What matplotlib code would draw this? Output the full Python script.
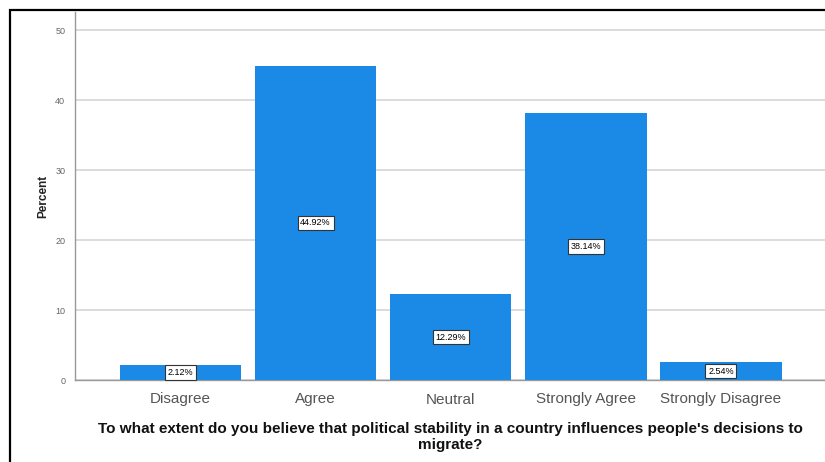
import matplotlib
matplotlib.use("Agg")
import matplotlib.pyplot as plt
from matplotlib.patches import Rectangle

categories = ["Disagree", "Agree", "Neutral", "Strongly Agree", "Strongly Disagree"]
percents = [2.12, 44.92, 12.29, 38.14, 2.54]
yticks = [0, 10, 20, 30, 40, 50]
xlabel = ("To what extent do you believe that political stability in a country influences people's decisions to\n"
          "migrate?")

plt.rcParams["font.family"] = ["Liberation Sans", "DejaVu Sans"]

fig = plt.figure(figsize=(8.25, 4.62), dpi=100)
W, H = 825, 462

# outer frame
fig.patches.append(Rectangle((10 / W, -0.1), 1.2, (H - 10) / H + 0.1,
                             transform=fig.transFigure, fill=False,
                             edgecolor="black", linewidth=1.6, zorder=0))

ax = fig.add_axes([75 / W, (H - 380) / H, (W - 75) / W, (380 - 12) / H])
ax.set_facecolor("none")
x = range(len(categories))
bars = ax.bar(x, percents, width=0.9, color="#1a8ae6", zorder=3)

for xi, v in zip(x, percents):
    ax.text(xi, v / 2, f"{v:.2f}%", ha="center", va="center", fontsize=6.5,
            color="black", zorder=4,
            bbox=dict(boxstyle="square,pad=0.3", facecolor="white",
                      edgecolor="#333333", linewidth=0.8))

ax.set_xlim(-0.78, 4.77)
ax.set_ylim(0, 52.6)
ax.set_yticks(yticks)
ax.set_xticks(list(x))
ax.set_xticklabels(categories, fontsize=11, color="#555555")
ax.tick_params(axis="x", length=0, pad=9)
ax.tick_params(axis="y", length=0, pad=7, labelsize=6.5, labelcolor="#666666")
ax.yaxis.grid(True, color="#dcdcdc", linewidth=1.4, zorder=0)
ax.set_axisbelow(True)
for s in ["top", "right"]:
    ax.spines[s].set_visible(False)
for s in ["left", "bottom"]:
    ax.spines[s].set_color("#999999")
    ax.spines[s].set_linewidth(1.0)

ax.set_ylabel("Percent", fontsize=8.5, fontweight="bold", color="#222222", labelpad=4)
ax.set_xlabel(xlabel, fontsize=11, fontweight="bold", color="#111111",
              labelpad=11, linespacing=1.2)

fig.savefig("out.png", dpi=100)
